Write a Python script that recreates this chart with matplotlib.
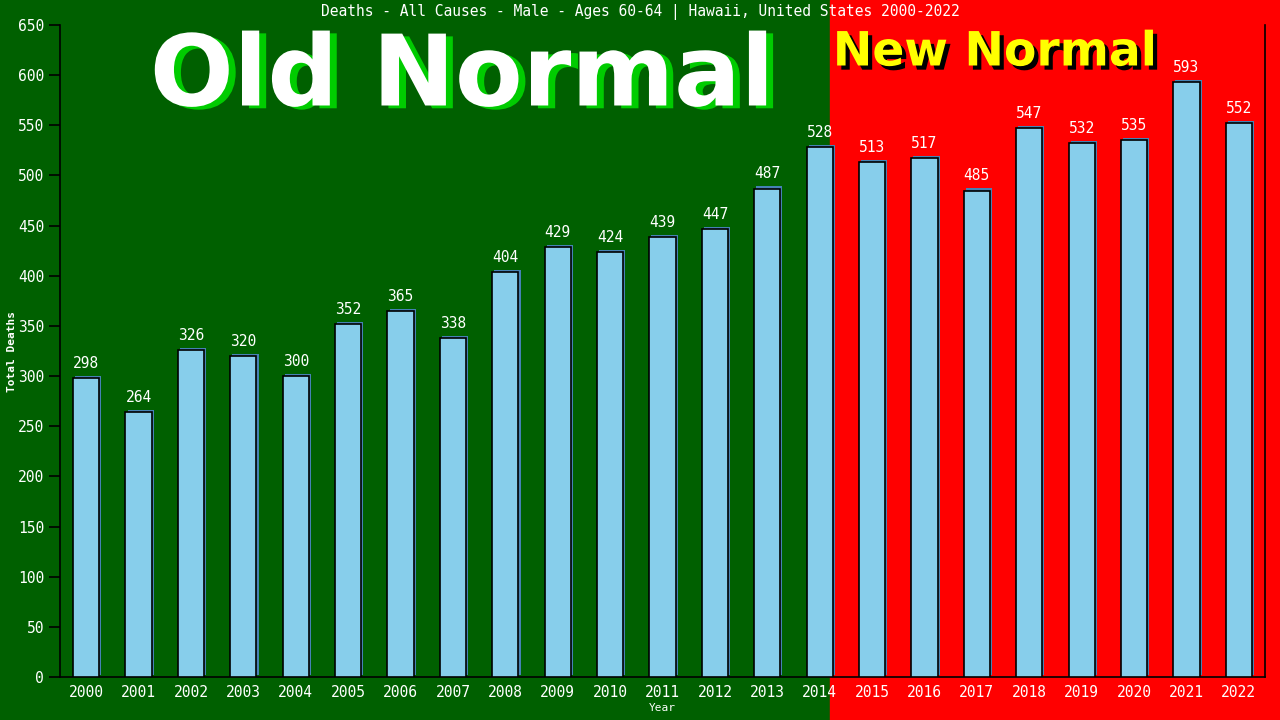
import matplotlib
matplotlib.use("Agg")
import matplotlib.pyplot as plt
import matplotlib.patheffects as pe

years = [str(y) for y in range(2000, 2023)]
deaths = [298, 264, 326, 320, 300, 352, 365, 338, 404, 429, 424, 439,
          447, 487, 528, 513, 517, 485, 547, 532, 535, 593, 552]
yticks = list(range(0, 651, 50))

fig = plt.figure(figsize=(12.8, 7.2), dpi=100)
fig.patch.set_facecolor("#006000")

# background axes: green old normal, red new normal
bg = fig.add_axes([0, 0, 1, 1], zorder=-10)
bg.set_xlim(0, 1280)
bg.set_ylim(0, 720)
bg.axvspan(830, 1280, color="#ff0000")
bg.axis("off")

ax = fig.add_axes([60 / 1280, 43 / 720, 1205 / 1280, 652 / 720])
ax.set_facecolor("none")

x = list(range(len(years)))
bars = ax.bar(x, deaths, width=0.5, color="#87ceeb", edgecolor="black", linewidth=1.2, zorder=3)
for b in bars:
    b.set_path_effects([pe.SimplePatchShadow(offset=(1.5, 1.5), shadow_rgbFace="#4682b4", alpha=1),
                        pe.Normal()])

for xi, v in zip(x, deaths):
    ax.text(xi, v + 7, str(v), ha="center", va="bottom", color="white",
            fontsize=10.5, family="DejaVu Sans Mono", zorder=4)

ax.set_xlim(-0.5, 22.5)
ax.set_ylim(0, 650)
ax.set_yticks(yticks)
ax.set_xticks(x)
ax.set_xticklabels(years)
for lab in ax.get_xticklabels() + ax.get_yticklabels():
    lab.set_family("DejaVu Sans Mono")
    lab.set_fontsize(10.5)
    lab.set_color("white")
ax.tick_params(axis="y", length=8, color="black", width=1.2)
ax.tick_params(axis="x", length=0, pad=6)
for s in ["left", "bottom", "right"]:
    ax.spines[s].set_color("black")
    ax.spines[s].set_linewidth(1.2)
ax.spines["top"].set_visible(False)

ax.set_xlabel("Year", color="white", fontsize=8, family="DejaVu Sans Mono", labelpad=2)
ax.set_ylabel("Total Deaths", color="white", fontsize=8, family="DejaVu Sans Mono",
              fontweight="bold")
ax.yaxis.set_label_coords(-0.036, 0.5)

fig.text(0.5, 1 - 12 / 720, "Deaths - All Causes - Male - Ages 60-64 | Hawaii, United States 2000-2022",
         ha="center", va="center", color="white", fontsize=10.5, family="DejaVu Sans Mono")

fig.text(462 / 1280, 1 - 78 / 720, "Old Normal", ha="center", va="center", color="white",
         fontsize=71, fontweight="bold", family="DejaVu Sans",
         path_effects=[pe.withSimplePatchShadow(offset=(5, -2), shadow_rgbFace="#00cc00", alpha=1)])
fig.text(995 / 1280, 1 - 53 / 720, "New Normal", ha="center", va="center", color="#ffff00",
         fontsize=34, fontweight="bold", family="DejaVu Sans",
         path_effects=[pe.withSimplePatchShadow(offset=(3, -3), shadow_rgbFace="black", alpha=1)])

fig.savefig("out.png", dpi=100, facecolor=fig.get_facecolor())
